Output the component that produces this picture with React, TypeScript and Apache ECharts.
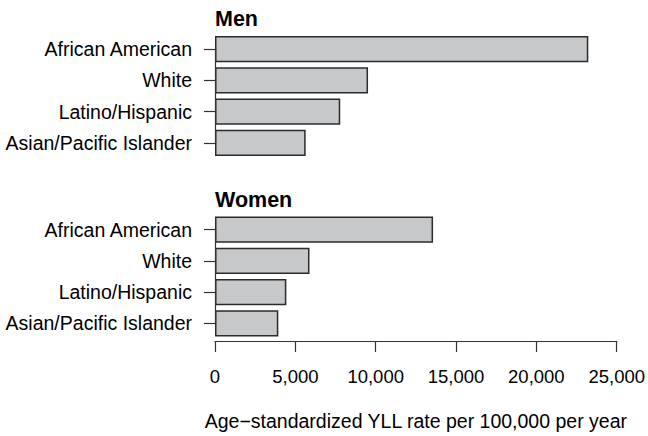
import React, { useEffect, useRef } from "react";
import * as echarts from "echarts";

const categories = ["African American", "White", "Latino/Hispanic", "Asian/Pacific Islander"];
const menValues = [23100, 9470, 7750, 5610];
const womenValues = [13570, 5880, 4440, 3940];
const panelTitles = ["Men", "Women"];
const xTicks = [0, 5000, 10000, 15000, 20000, 25000];
const xAxisTitle = "Age\u2212standardized YLL rate per 100,000 per year";

const FONT = "'Liberation Sans', Arial, Helvetica, sans-serif";

export default function App() {
  const ref = useRef<HTMLDivElement>(null);
  useEffect(() => {
    if (!ref.current) return;
    const chart = echarts.init(ref.current, undefined, { renderer: "svg" });
    const left = 215;
    const right = 648 - 619;
    const grids = [
      { left, right, top: 33.4, height: 125.2 },
      { left, right, top: 213.9, height: 125.1 },
    ];
    const fmt = (v: number) => v.toLocaleString("en-US");
    const yAxis = grids.map((_, i) => ({
      type: "category" as const,
      gridIndex: i,
      data: categories,
      inverse: true,
      axisLine: { show: false },
      axisTick: { show: true, alignWithLabel: true, length: 11, lineStyle: { color: "#333", width: 1.2 } },
      axisLabel: { margin: 23, color: "#000", fontSize: 19.5, fontFamily: FONT },
    }));
    const xAxis = grids.map((_, i) => ({
      type: "value" as const,
      gridIndex: i,
      min: 0,
      max: 25000,
      interval: 5000,
      show: i === 1,
      offset: 2,
      splitLine: { show: false },
      axisLine: { show: true, lineStyle: { color: "#333", width: 1.2 } },
      axisTick: { show: true, length: 11, lineStyle: { color: "#333", width: 1.2 } },
      axisLabel: {
        margin: 26,
        color: "#000",
        fontSize: 18.5,
        fontFamily: FONT,
        formatter: (v: number) => (xTicks.includes(v) ? fmt(v) : ""),
      },
      name: i === 1 ? xAxisTitle : "",
      nameLocation: "middle" as const,
      nameGap: 70,
      nameTextStyle: { color: "#000", fontSize: 19.5, fontFamily: FONT },
    }));
    const barStyle = { color: "#c7c8ca", borderColor: "#2b2b2b", borderWidth: 1.5 };
    chart.setOption({
      animation: false,
      backgroundColor: "#fff",
      grid: grids,
      xAxis,
      yAxis,
      series: [menValues, womenValues].map((vals, i) => ({
        type: "bar",
        xAxisIndex: i,
        yAxisIndex: i,
        data: vals,
        barCategoryGap: "16%",
        itemStyle: barStyle,
        markLine: {
          silent: true,
          symbol: ["none", "none"],
          label: { show: false },
          lineStyle: { color: "#333", width: 1.2, type: "solid" },
          data: [
            [
              { xAxis: 0, yAxis: categories[0] },
              { xAxis: 0, yAxis: categories[categories.length - 1] },
            ],
          ],
        },
      })),
      graphic: panelTitles.map((t, i) => ({
        type: "text",
        left: 215,
        top: i === 0 ? 8 : 188.5,
        style: { text: t, fontSize: 21.5, fontWeight: "bold", fontFamily: FONT, fill: "#000" },
      })),
    });
    return () => chart.dispose();
  }, []);
  return (
    <div
      ref={ref}
      style={{ position: "fixed", left: 0, top: 0, width: 648, height: 436, background: "#fff" }}
    />
  );
}
